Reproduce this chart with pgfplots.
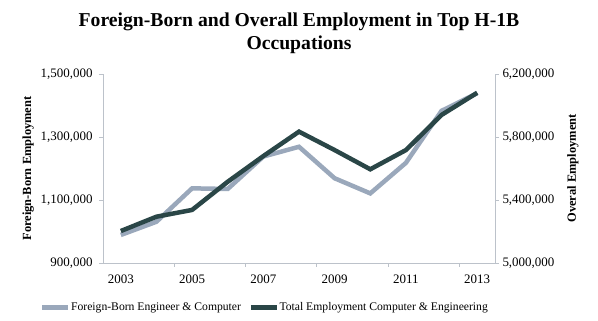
\documentclass[border=0pt]{standalone}
\usepackage{fontspec}
\setmainfont{Liberation Serif}
\usepackage{pgfplots}
\pgfplotsset{compat=1.18}
\definecolor{fbgray}{HTML}{9AA8BB}
\definecolor{totdark}{HTML}{2A4647}
\definecolor{axgray}{HTML}{BCC2CA}
\begin{document}
\begin{tikzpicture}
\pgfplotsset{
  common/.style={
    scale only axis, width=392bp, height=189bp,
    xmin=2002.5, xmax=2013.5,
    scaled y ticks=false,
    yticklabel style={/pgf/number format/fixed, /pgf/number format/1000 sep={,}, /pgf/number format/assume math mode=true},
    tick label style={font=\fontsize{13}{15}\selectfont},
    label style={font=\bfseries\fontsize{12.5}{15}\selectfont},
    tick align=outside, major tick length=4bp, minor tick length=4bp,
    axis line style={-, draw=axgray, line width=0.8bp},
    every tick/.style={draw=axgray, line width=0.8bp},
    clip=false,
  }
}
\begin{axis}[common, name=main,
  axis y line*=left, axis x line*=bottom,
  ymin=900000, ymax=1500000,
  ytick={900000,1100000,1300000,1500000},
  xtick={2003,2005,2007,2009,2011,2013},
  xticklabels={2003,2005,2007,2009,2011,2013},
  every major x tick/.style={draw=none},
  minor xtick={2004.5,2006.5,2008.5,2010.5,2012.5},
  ylabel={Foreign-Born Employment},
  ylabel style={yshift=0bp},
  xticklabel style={yshift=-4bp},
  yticklabel style={xshift=-3bp},
  title={Foreign-Born and Overall Employment in Top H-1B\\Occupations},
  title style={font=\bfseries\fontsize{19.75}{23}\selectfont, align=center, yshift=11bp},
]
\addplot[fbgray, line width=4.5bp] coordinates {
(2003,989000) (2004,1031000) (2005,1137000) (2006,1135000) (2007,1238000)
(2008,1269000) (2009,1169000) (2010,1121000) (2011,1218000) (2012,1383000) (2013,1439000)};
\end{axis}
\begin{axis}[common,
  axis y line*=right, axis x line=none,
  ymin=5000000, ymax=6200000,
  ytick={5000000,5400000,5800000,6200000},
  ylabel={Overal Employment},
  ylabel style={yshift=-6bp},
  legend style={draw=none, fill=none, inner sep=0pt, at={(-0.161,-0.236)}, anchor=west,
    legend columns=2, font=\fontsize{11.7}{14}\selectfont,
    nodes={inner xsep=0.5bp},
    /tikz/every even column/.append style={column sep=7bp}},
  legend image code/.code={\draw[#1] (0bp,0bp) -- (26bp,0bp);},
]
\addlegendimage{fbgray, line width=4.5bp}
\addlegendentry{Foreign-Born Engineer \& Computer}
\addplot[totdark, line width=4.5bp] coordinates {
(2003,5203000) (2004,5294000) (2005,5337000) (2006,5516000) (2007,5679000)
(2008,5834000) (2009,5717000) (2010,5595000) (2011,5717000) (2012,5940000) (2013,6081000)};
\addlegendentry{Total Employment Computer \& Engineering}
\end{axis}
\pgfresetboundingbox
\useasboundingbox (main.south west) ++(-103bp,-58bp) rectangle ++(598bp,321bp);
\end{tikzpicture}
\end{document}
